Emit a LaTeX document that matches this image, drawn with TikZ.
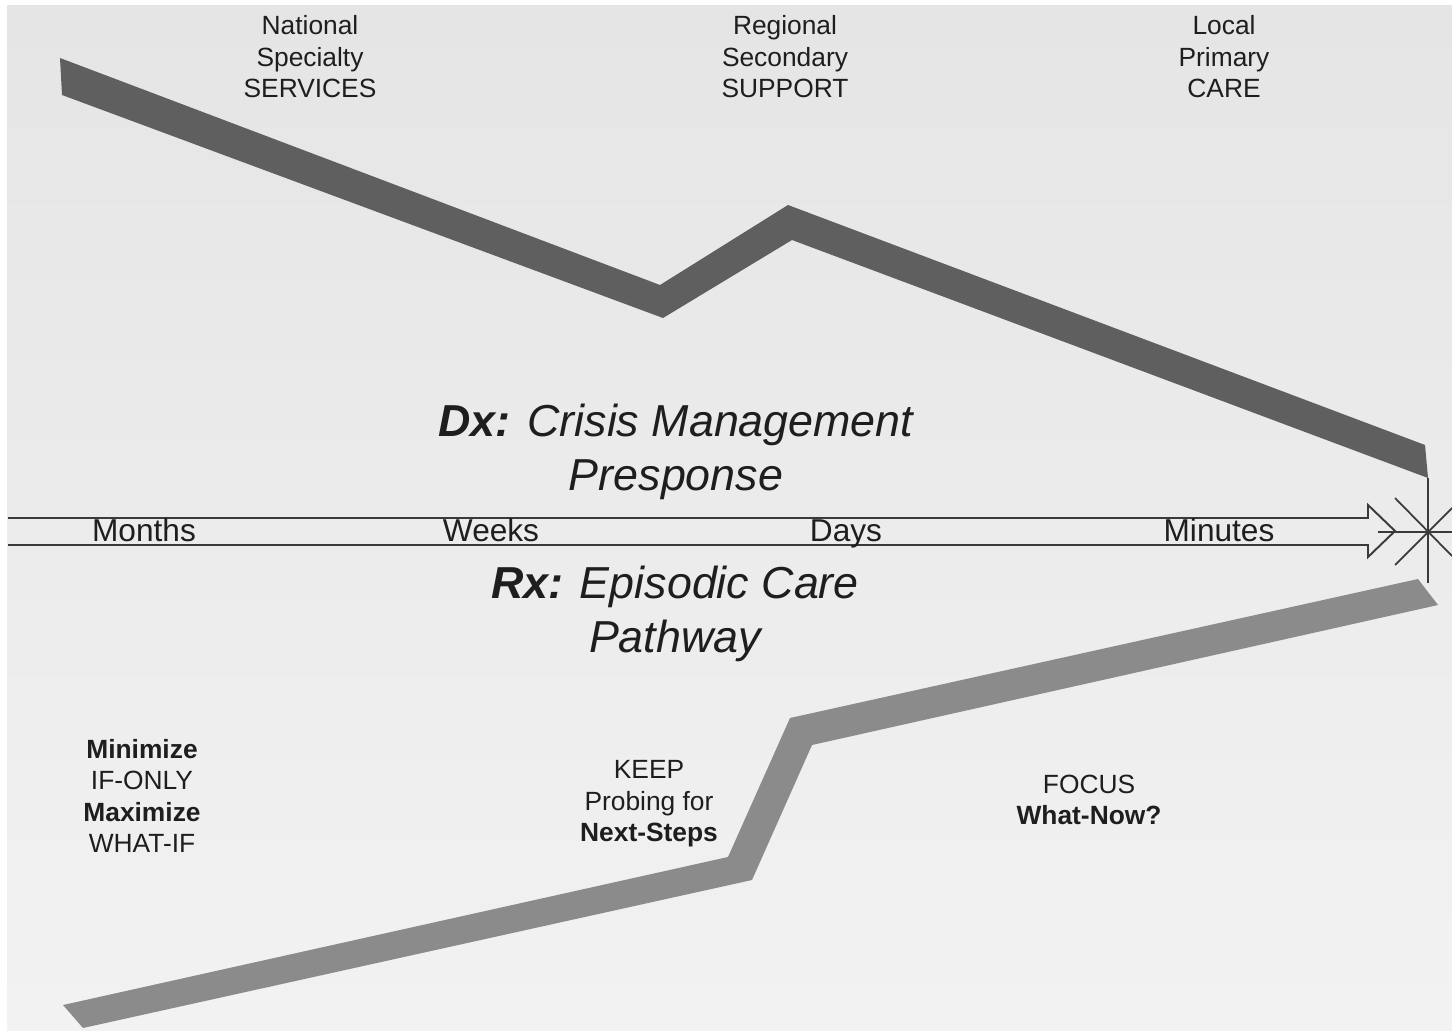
\documentclass[tikz,border=0pt]{standalone}
\usepackage{fontspec}
\setmainfont{Liberation Sans}
\usepackage{xcolor}
\usetikzlibrary{arrows.meta,calc}
\definecolor{bgtop}{HTML}{E4E5E4}
\definecolor{bgbot}{HTML}{F2F2F2}
\definecolor{darkband}{HTML}{5F5F5F}
\definecolor{lightband}{HTML}{8B8B8B}
\definecolor{linegray}{HTML}{3A3A3A}
\definecolor{ink}{HTML}{1E1E1E}
\begin{document}
\begin{tikzpicture}[
  x=0.02cm,y=-0.02cm,
  lbl/.style={align=center,text=ink,inner sep=0pt,font=\fontsize{15}{17.9}\selectfont},
  tick/.style={anchor=base,text=ink,inner sep=0pt,font=\fontsize{18}{20}\selectfont},
  headline/.style={align=center,text=ink,inner sep=0pt,font=\fontsize{25.5}{31}\selectfont\itshape},
  rule/.style={draw=linegray,line width=1.1pt},
  star/.style={draw=linegray,line width=1pt}
]
\useasboundingbox (0,0) rectangle (1452,1030);
\fill[white] (0,0) rectangle (1452,1030);
\shade[top color=bgtop,bottom color=bgbot] (7,6) rectangle (1452,1030);

% Dx band
\fill[darkband] (60,58) -- (660,285) -- (788,205) -- (1425,445) -- (1428,478)
  -- (792,240) -- (663,318) -- (62,95) -- cycle;
% Rx band
\fill[lightband] (63,1005) -- (728,857) -- (790,718) -- (1418,579) -- (1438,605)
  -- (812,745) -- (752,880) -- (83,1028) -- cycle;

% time axis
\coordinate (tip) at (1395,531);
\coordinate (hub) at (1428,532);
\draw[rule,line join=miter] (8,518) -- (1368,518) -- (1368,505) -- (tip)
  -- (1368,557) -- (1368,545) -- (8,545);
\draw[star] (1428,478) -- (1428,583);
\draw[star] (1378,532) -- (1452,532);
\draw[star] (1395,498) -- (1452,556);
\draw[star] (1395,565) -- (1452,508);

\node[tick] (months)  at (144,541)  {Months};
\node[tick] (weeks)   at (491,541)  {Weeks};
\node[tick] (days)    at (846,541)  {Days};
\node[tick] (minutes) at (1219,541) {Minutes};

% levels of care
\node[lbl] (national) at (310,57)  {National\\Specialty\\SERVICES};
\node[lbl] (regional) at (785,57)  {Regional\\Secondary\\SUPPORT};
\node[lbl] (local)    at (1224,57) {Local\\Primary\\CARE};

% headlines
\node[headline] (dx) at (676,452) {\textbf{Dx:} Crisis Management\\Presponse};
\node[headline] (rx) at (675,614) {\textbf{Rx:} Episodic Care\\Pathway};

% care goals
\node[lbl] (ifonly) at (142,796) {\textbf{Minimize}\\IF-ONLY\\\textbf{Maximize}\\WHAT-IF};
\node[lbl] (keep)   at (649,804) {KEEP\\Probing for\\\textbf{Next-Steps}};
\node[lbl] (focus)  at (1089,800) {FOCUS\\\textbf{What-Now?}};
\end{tikzpicture}
\end{document}
